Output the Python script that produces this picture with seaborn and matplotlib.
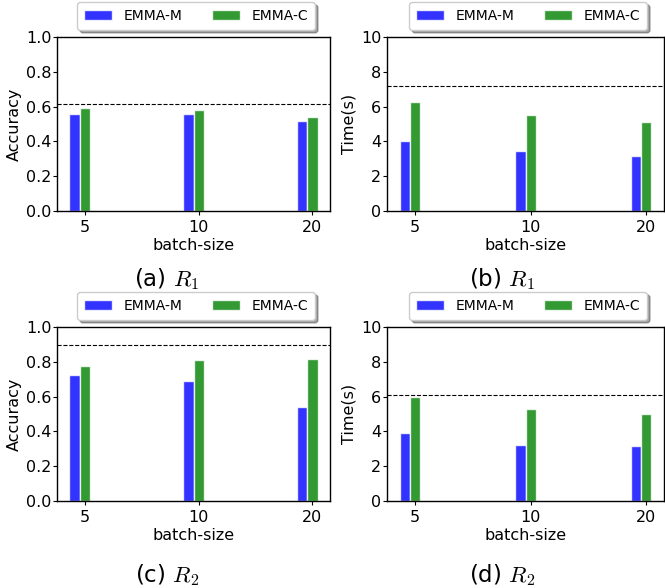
import pandas as pd
import matplotlib
matplotlib.use("Agg")
import matplotlib.pyplot as plt
import seaborn as sns

# values
batch_sizes = ["5", "10", "20"]
methods = ["EMMA-M", "EMMA-C"]

acc_r1_m = [0.558, 0.555, 0.515]
acc_r1_c = [0.590, 0.578, 0.543]
time_r1_m = [4.00, 3.43, 3.14]
time_r1_c = [6.25, 5.50, 5.10]
acc_r2_m = [0.722, 0.688, 0.540]
acc_r2_c = [0.775, 0.808, 0.815]
time_r2_m = [3.93, 3.24, 3.18]
time_r2_c = [6.00, 5.31, 5.02]

# dashed reference levels
ref_acc_r1 = 0.615
ref_time_r1 = 7.17
ref_acc_r2 = 0.897
ref_time_r2 = 6.12

captions = ["(a) $R_1$", "(b) $R_1$", "(c) $R_2$", "(d) $R_2$"]

sns.set_style("ticks")
plt.rcParams["font.family"] = ["DejaVu Sans"]
plt.rcParams["mathtext.fontset"] = "cm"
for key in ["text.color", "axes.labelcolor", "xtick.color", "ytick.color", "axes.edgecolor"]:
    plt.rcParams[key] = "black"

W, H = 665, 588
fig = plt.figure(figsize=(W / 100, H / 100), dpi=100)


def make_df(m_vals, c_vals):
    rows = []
    for b, v in zip(batch_sizes, m_vals):
        rows.append({"batch": b, "method": methods[0], "value": v})
    for b, v in zip(batch_sizes, c_vals):
        rows.append({"batch": b, "method": methods[1], "value": v})
    return pd.DataFrame(rows)


panels = [
    (make_df(acc_r1_m, acc_r1_c), ref_acc_r1, "Accuracy", (57, 211, 273)),
    (make_df(time_r1_m, time_r1_c), ref_time_r1, "Time(s)", (387, 211, 277)),
    (make_df(acc_r2_m, acc_r2_c), ref_acc_r2, "Accuracy", (57, 501, 273)),
    (make_df(time_r2_m, time_r2_c), ref_time_r2, "Time(s)", (387, 501, 277)),
]

for (df, ref, ylab, (left, bottom, width)) in panels:
    ax = fig.add_axes([left / W, 1 - bottom / H, width / W, 174 / H])
    sns.barplot(data=df, x="batch", y="value", hue="method", order=batch_sizes,
                hue_order=methods, palette=["blue", "green"], alpha=0.8,
                saturation=1, width=0.18, errorbar=None, ax=ax)
    ax.axhline(ref, color="black", linestyle="--", linewidth=0.8)
    ax.set_xlim(-0.199, 2.199)
    ax.set_xticks([i + 0.045 for i in range(len(batch_sizes))])
    ax.set_xticklabels(batch_sizes)
    if ylab == "Accuracy":
        ax.set_ylim(0, 1.0)
        ax.set_yticks([0, 0.2, 0.4, 0.6, 0.8, 1.0])
        ax.set_yticklabels(["0.0", "0.2", "0.4", "0.6", "0.8", "1.0"])
    else:
        ax.set_ylim(0, 10)
        ax.set_yticks([0, 2, 4, 6, 8, 10])
    ax.set_xlabel("batch-size", fontsize=11.5, labelpad=2)
    ax.set_ylabel(ylab, fontsize=11.5, labelpad=3)
    ax.tick_params(labelsize=11.5, length=3, width=0.8)
    ax.tick_params(axis="y", pad=1)
    for s in ax.spines.values():
        s.set_color("black")
        s.set_linewidth(1.0)
    ax.get_legend().remove()
    handles, labels = ax.get_legend_handles_labels()
    ax.legend(handles, labels, loc="lower center", bbox_to_anchor=(0.51, 1.04),
              ncol=2, fontsize=10, frameon=True, shadow=True, fancybox=True,
              columnspacing=2.1, handletextpad=0.85, borderaxespad=0,
              borderpad=0.5, handleheight=0.7)

fig.text(167 / W, 1 - 279 / H, captions[0], ha="center", va="center", fontsize=16.5)
fig.text(502 / W, 1 - 279 / H, captions[1], ha="center", va="center", fontsize=16.5)
fig.text(167 / W, 1 - 575 / H, captions[2], ha="center", va="center", fontsize=16.5)
fig.text(502 / W, 1 - 575 / H, captions[3], ha="center", va="center", fontsize=16.5)

fig.savefig("out.png", dpi=100)
